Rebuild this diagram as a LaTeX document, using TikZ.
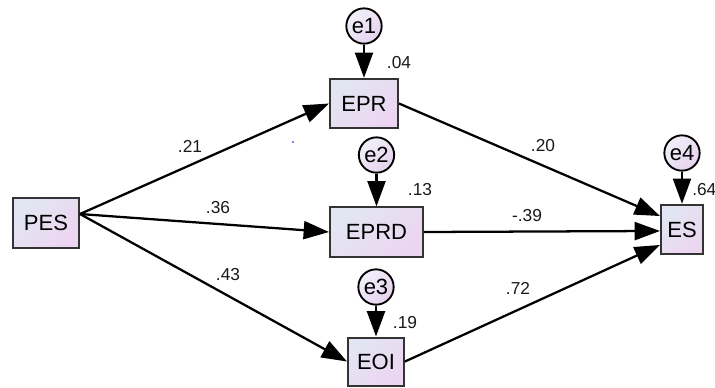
\documentclass[tikz,border=0pt]{standalone}
\usepackage{fontspec}
\setmainfont{Liberation Sans}
\usetikzlibrary{arrows.meta}

\definecolor{varlight}{HTML}{E2E6F2}
\definecolor{vardark}{HTML}{ECD5F1}
\definecolor{errlight}{HTML}{F1F0FA}
\definecolor{errdark}{HTML}{E6D2EE}
\definecolor{frame}{HTML}{333333}

\tikzset{
	obs/.style={draw=frame, line width=1.5pt, top color=varlight, bottom color=vardark,
		shading angle=45, inner sep=0pt, minimum height=37pt, font=\fontsize{16.5}{18}\selectfont},
	err/.style={circle, draw=black, line width=1.4pt, top color=errlight, bottom color=errdark,
		shading angle=45, inner sep=0pt, minimum size=26.5pt, font=\fontsize{16.5}{18}\selectfont},
	regr/.style={line width=1.7pt, -{Triangle[length=19pt, width=13.5pt]}},
	coef/.style={inner sep=0pt, text=black!90, font=\fontsize{13}{15}\selectfont}
}

\begin{document}
\begin{tikzpicture}[x=0.75pt, y=-0.75pt]

	\useasboundingbox (0,0) rectangle (715,387);

	%observed variables
	\node[obs, minimum width=49.5pt] (PES) at (46,223) {PES};
	\node[obs, minimum width=51pt] (EPR) at (364,103.5) {EPR};
	\node[obs, minimum width=69.75pt] (EPRD) at (376.5,232) {EPRD};
	\node[obs, minimum width=42pt, minimum height=36pt] (EOI) at (376,361.5) {EOI};
	\node[obs, minimum width=31.5pt] (ES) at (682,229.5) {ES};

	%error terms
	\node[err] (e1) at (364,26) {e1};
	\node[err] (e2) at (376.5,155) {e2};
	\node[err] (e3) at (376,287) {e3};
	\node[err] (e4) at (682,153) {e4};

	\coordinate (pesout) at ([yshift=6.75pt]PES.east);

	%paths
	\draw[regr] (pesout) -- (EPR.west);
	\draw[regr] (pesout) -- (EPRD.west);
	\draw[regr] (pesout) -- (EOI.west);
	\draw[regr] (EPR.east) -- ([yshift=10.1pt]ES.west);
	\draw[regr] (EPRD.east) -- ([yshift=-1.1pt]ES.west);
	\draw[regr] (EOI.east) -- ([yshift=-11.6pt]ES.west);

	\foreach \e/\v in {e1/EPR, e2/EPRD, e3/EOI, e4/ES}
		\draw[regr] (\e) -- (\v);

	%estimates
	\node[coef] (b21) at (190,146) {.21};
	\node[coef] (b36) at (218,208) {.36};
	\node[coef] (b43) at (228,275) {.43};
	\node[coef] (b20) at (543,146) {.20};
	\node[coef] (b39) at (527,216) {-.39};
	\node[coef] (b72) at (518,288) {.72};

	\node[coef] (r04) at (399,63) {.04};
	\node[coef] (r13) at (420,190) {.13};
	\node[coef] (r19) at (405,323) {.19};
	\node[coef, anchor=west] (r64) at (692,190) {.64};

	\fill[blue] (293,142) circle (0.6pt);
\end{tikzpicture}
\end{document}
